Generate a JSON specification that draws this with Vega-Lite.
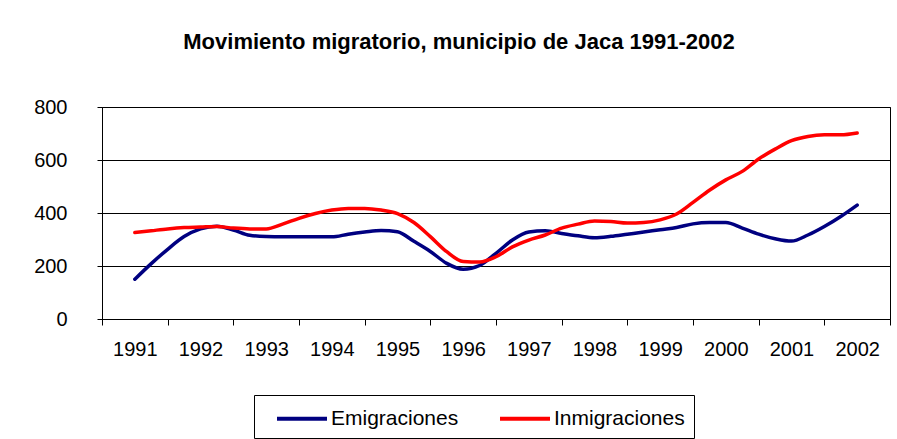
{
  "$schema": "https://vega.github.io/schema/vega-lite/v6.json",
  "width": 788,
  "height": 212,
  "autosize": "none",
  "padding": {"left": 102, "top": 107, "right": 7, "bottom": 120},
  "background": "white",
  "title": {
    "text": "Movimiento migratorio, municipio de Jaca 1991-2002",
    "fontSize": 22,
    "fontWeight": "bold",
    "font": "Liberation Sans",
    "color": "black",
    "anchor": "middle",
    "dx": -37,
    "offset": 43
  },
  "data": {
    "values": [
      {"t": 1991.00, "s": "Emigraciones", "v": 150}, {"t": 1991.00, "s": "Inmigraciones", "v": 326},
      {"t": 1991.25, "s": "Emigraciones", "v": 209}, {"t": 1991.25, "s": "Inmigraciones", "v": 333},
      {"t": 1991.50, "s": "Emigraciones", "v": 263}, {"t": 1991.50, "s": "Inmigraciones", "v": 340},
      {"t": 1991.75, "s": "Emigraciones", "v": 311}, {"t": 1991.75, "s": "Inmigraciones", "v": 345},
      {"t": 1992.00, "s": "Emigraciones", "v": 340}, {"t": 1992.00, "s": "Inmigraciones", "v": 347},
      {"t": 1992.25, "s": "Emigraciones", "v": 350}, {"t": 1992.25, "s": "Inmigraciones", "v": 349},
      {"t": 1992.50, "s": "Emigraciones", "v": 336}, {"t": 1992.50, "s": "Inmigraciones", "v": 343},
      {"t": 1992.75, "s": "Emigraciones", "v": 316}, {"t": 1992.75, "s": "Inmigraciones", "v": 340},
      {"t": 1993.00, "s": "Emigraciones", "v": 311}, {"t": 1993.00, "s": "Inmigraciones", "v": 340},
      {"t": 1993.25, "s": "Emigraciones", "v": 310}, {"t": 1993.25, "s": "Inmigraciones", "v": 358},
      {"t": 1993.50, "s": "Emigraciones", "v": 310}, {"t": 1993.50, "s": "Inmigraciones", "v": 380},
      {"t": 1993.75, "s": "Emigraciones", "v": 310}, {"t": 1993.75, "s": "Inmigraciones", "v": 398},
      {"t": 1994.00, "s": "Emigraciones", "v": 310}, {"t": 1994.00, "s": "Inmigraciones", "v": 411},
      {"t": 1994.25, "s": "Emigraciones", "v": 320}, {"t": 1994.25, "s": "Inmigraciones", "v": 417},
      {"t": 1994.50, "s": "Emigraciones", "v": 328}, {"t": 1994.50, "s": "Inmigraciones", "v": 417},
      {"t": 1994.75, "s": "Emigraciones", "v": 334}, {"t": 1994.75, "s": "Inmigraciones", "v": 411},
      {"t": 1995.00, "s": "Emigraciones", "v": 329}, {"t": 1995.00, "s": "Inmigraciones", "v": 398},
      {"t": 1995.25, "s": "Emigraciones", "v": 293}, {"t": 1995.25, "s": "Inmigraciones", "v": 364},
      {"t": 1995.50, "s": "Emigraciones", "v": 255}, {"t": 1995.50, "s": "Inmigraciones", "v": 311},
      {"t": 1995.75, "s": "Emigraciones", "v": 210}, {"t": 1995.75, "s": "Inmigraciones", "v": 254},
      {"t": 1996.00, "s": "Emigraciones", "v": 188}, {"t": 1996.00, "s": "Inmigraciones", "v": 217},
      {"t": 1996.25, "s": "Emigraciones", "v": 202}, {"t": 1996.25, "s": "Inmigraciones", "v": 215},
      {"t": 1996.50, "s": "Emigraciones", "v": 248}, {"t": 1996.50, "s": "Inmigraciones", "v": 235},
      {"t": 1996.75, "s": "Emigraciones", "v": 298}, {"t": 1996.75, "s": "Inmigraciones", "v": 272},
      {"t": 1997.00, "s": "Emigraciones", "v": 328}, {"t": 1997.00, "s": "Inmigraciones", "v": 298},
      {"t": 1997.25, "s": "Emigraciones", "v": 333}, {"t": 1997.25, "s": "Inmigraciones", "v": 317},
      {"t": 1997.50, "s": "Emigraciones", "v": 323}, {"t": 1997.50, "s": "Inmigraciones", "v": 343},
      {"t": 1997.75, "s": "Emigraciones", "v": 314}, {"t": 1997.75, "s": "Inmigraciones", "v": 358},
      {"t": 1998.00, "s": "Emigraciones", "v": 307}, {"t": 1998.00, "s": "Inmigraciones", "v": 370},
      {"t": 1998.25, "s": "Emigraciones", "v": 312}, {"t": 1998.25, "s": "Inmigraciones", "v": 368},
      {"t": 1998.50, "s": "Emigraciones", "v": 320}, {"t": 1998.50, "s": "Inmigraciones", "v": 362},
      {"t": 1998.75, "s": "Emigraciones", "v": 328}, {"t": 1998.75, "s": "Inmigraciones", "v": 364},
      {"t": 1999.00, "s": "Emigraciones", "v": 337}, {"t": 1999.00, "s": "Inmigraciones", "v": 374},
      {"t": 1999.25, "s": "Emigraciones", "v": 345}, {"t": 1999.25, "s": "Inmigraciones", "v": 396},
      {"t": 1999.50, "s": "Emigraciones", "v": 359}, {"t": 1999.50, "s": "Inmigraciones", "v": 440},
      {"t": 1999.75, "s": "Emigraciones", "v": 364}, {"t": 1999.75, "s": "Inmigraciones", "v": 486},
      {"t": 2000.00, "s": "Emigraciones", "v": 364}, {"t": 2000.00, "s": "Inmigraciones", "v": 525},
      {"t": 2000.25, "s": "Emigraciones", "v": 343}, {"t": 2000.25, "s": "Inmigraciones", "v": 557},
      {"t": 2000.50, "s": "Emigraciones", "v": 320}, {"t": 2000.50, "s": "Inmigraciones", "v": 604},
      {"t": 2000.75, "s": "Emigraciones", "v": 303}, {"t": 2000.75, "s": "Inmigraciones", "v": 641},
      {"t": 2001.00, "s": "Emigraciones", "v": 294}, {"t": 2001.00, "s": "Inmigraciones", "v": 673},
      {"t": 2001.25, "s": "Emigraciones", "v": 317}, {"t": 2001.25, "s": "Inmigraciones", "v": 689},
      {"t": 2001.50, "s": "Emigraciones", "v": 349}, {"t": 2001.50, "s": "Inmigraciones", "v": 695},
      {"t": 2001.75, "s": "Emigraciones", "v": 387}, {"t": 2001.75, "s": "Inmigraciones", "v": 695},
      {"t": 2002.00, "s": "Emigraciones", "v": 430}, {"t": 2002.00, "s": "Inmigraciones", "v": 702}
    ]
  },
  "mark": {"type": "line", "strokeWidth": 3.5, "interpolate": "monotone", "strokeCap": "round", "strokeJoin": "round"},
  "encoding": {
    "x": {
      "field": "t",
      "type": "quantitative",
      "scale": {"domain": [1990.5, 2002.5], "nice": false, "zero": false},
      "axis": {
        "title": null,
        "values": [1990.5, 1991.5, 1992.5, 1993.5, 1994.5, 1995.5, 1996.5, 1997.5, 1998.5, 1999.5, 2000.5, 2001.5, 2002.5],
        "labelExpr": "datum.value < 2002 ? '' + (datum.value + 0.5) : ''",
        "labelOffset": 32.8,
        "labelFlush": false,
        "labelOverlap": false,
        "labelBound": false,
        "labelFontSize": 20,
        "labelColor": "black",
        "labelPadding": 14,
        "tickSize": 6,
        "tickColor": "black",
        "domainColor": "black",
        "grid": false
      }
    },
    "y": {
      "field": "v",
      "type": "quantitative",
      "scale": {"domain": [0, 800], "nice": false},
      "axis": {
        "title": null,
        "values": [0, 200, 400, 600, 800],
        "labelFontSize": 20,
        "labelColor": "black",
        "labelPadding": 30,
        "tickSize": 5,
        "tickColor": "black",
        "domainColor": "black",
        "grid": true,
        "gridColor": "black",
        "gridOpacity": 1
      }
    },
    "color": {
      "field": "s",
      "type": "nominal",
      "scale": {"domain": ["Emigraciones", "Inmigraciones"], "range": ["#000080", "#FF0000"]},
      "legend": {
        "title": null,
        "orient": "none",
        "legendX": 152,
        "legendY": 288,
        "direction": "horizontal",
        "strokeColor": "black",
        "padding": 9,
        "symbolType": "M-2,0H2",
        "symbolSize": 625,
        "symbolStrokeWidth": 4,
        "symbolOffset": 24.5,
        "labelOffset": 14.5,
        "labelFontSize": 21,
        "labelColor": "black",
        "labelLimit": 400,
        "columnPadding": 27
      }
    }
  },
  "config": {
    "font": "Liberation Sans",
    "view": {"stroke": "black", "strokeWidth": 1},
    "axis": {"domainWidth": 1, "tickWidth": 1, "gridWidth": 1}
  }
}
